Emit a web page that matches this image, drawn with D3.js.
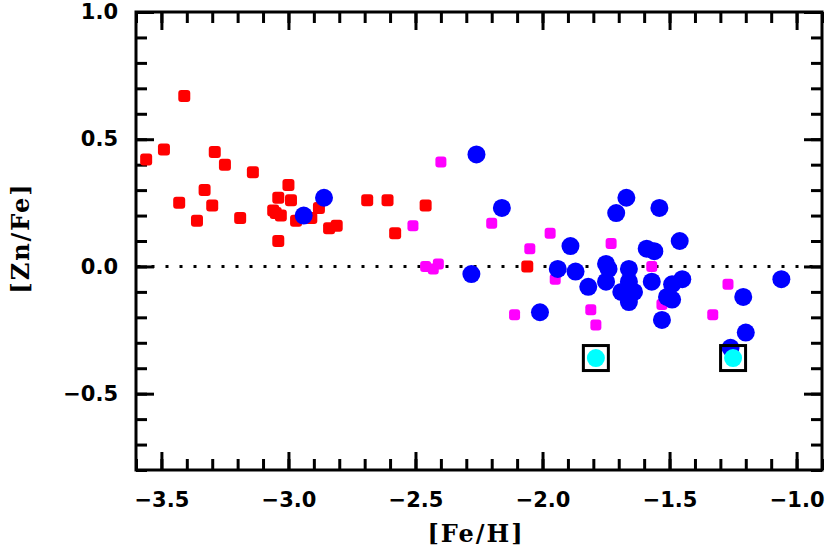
<!DOCTYPE html>
<html>
<head>
<meta charset="utf-8">
<script src="https://cdn.jsdelivr.net/npm/d3@7"></script>
<style>
  body { margin: 0; background: #fff; }
  .tick text { font-family: "DejaVu Sans", sans-serif; font-weight: bold; font-size: 21px; fill: #000; }
</style>
</head>
<body>
<svg id="chart" width="830" height="553"></svg>
<script>
// [Fe/H], [Zn/Fe]
var redFeH = [-3.41, -3.49, -3.56, -3.29, -3.25, -3.14, -3.00, -3.33, -3.43, -3.30, -3.04, -2.99,
              -3.06, -3.05, -3.03, -2.97, -2.91, -2.88, -3.36, -3.19, -3.04, -2.84, -2.81, -2.69,
              -2.61, -2.46, -2.58, -2.06];
var redZnFe = [0.67, 0.46, 0.42, 0.45, 0.40, 0.37, 0.32, 0.30, 0.25, 0.24, 0.27, 0.26,
               0.22, 0.21, 0.20, 0.18, 0.19, 0.23, 0.18, 0.19, 0.10, 0.15, 0.16, 0.26,
               0.26, 0.24, 0.13, 0.00];

var magFeH = [-2.40, -2.51, -2.46, -2.43, -2.41, -2.20, -2.05, -1.97, -1.95, -2.11,
              -1.73, -1.57, -1.81, -1.79, -1.53, -1.27, -1.33];
var magZnFe = [0.41, 0.16, 0.00, -0.01, 0.01, 0.17, 0.07, 0.13, -0.05, -0.19,
               0.09, 0.00, -0.17, -0.23, -0.15, -0.07, -0.19];

var blueFeH = [-2.86, -2.94, -2.26, -2.16, -2.28, -1.89, -1.94, -2.01, -1.67, -1.71,
               -1.54, -1.46, -1.59, -1.56, -1.75, -1.74, -1.66, -1.87, -1.82, -1.75,
               -1.69, -1.66, -1.64, -1.66, -1.57, -1.49, -1.45, -1.51, -1.49, -1.53,
               -1.06, -1.21, -1.20, -1.26];
var blueZnFe = [0.27, 0.20, 0.44, 0.23, -0.03, 0.08, -0.01, -0.18, 0.27, 0.21,
                0.23, 0.10, 0.07, 0.06, 0.01, -0.01, -0.01, -0.02, -0.08, -0.06,
                -0.10, -0.06, -0.10, -0.14, -0.06, -0.07, -0.05, -0.12, -0.13, -0.21,
                -0.05, -0.12, -0.26, -0.32];

var cyanFeH = [-1.79, -1.25];
var cyanZnFe = [-0.36, -0.36];

var xMajor = [-3.5, -3.0, -2.5, -2.0, -1.5, -1.0];
var yMajor = [-0.5, 0.0, 0.5, 1.0];

var margin = { left: 136, top: 12, right: 8, bottom: 83 };
var W = 830, H = 553;
var w = W - margin.left - margin.right;
var h = H - margin.top - margin.bottom;

var svg = d3.select("#chart");
var g = svg.append("g").attr("transform", "translate(" + margin.left + "," + margin.top + ")");

var x = d3.scaleLinear().domain([-3.6, -0.9]).range([0, w]);
var y = d3.scaleLinear().domain([-0.8, 1.0]).range([h, 0]);

var xMinor = d3.range(-36, -8).map(function (d) { return d / 10; });
var yMinor = d3.range(-8, 11).map(function (d) { return d / 10; });
var fmt = d3.format(".1f");

function styleAxis(sel) {
    sel.select(".domain").remove();
    sel.selectAll("line").attr("stroke", "#000").attr("stroke-width", 3);
}

// minor ticks, all four sides
g.append("g").attr("transform", "translate(0," + h + ")")
    .call(d3.axisBottom(x).tickValues(xMinor).tickSize(-11).tickFormat(""))
    .call(styleAxis);
g.append("g")
    .call(d3.axisTop(x).tickValues(xMinor).tickSize(-11).tickFormat(""))
    .call(styleAxis);
g.append("g")
    .call(d3.axisLeft(y).tickValues(yMinor).tickSize(-11).tickFormat(""))
    .call(styleAxis);
g.append("g").attr("transform", "translate(" + w + ",0)")
    .call(d3.axisRight(y).tickValues(yMinor).tickSize(-11).tickFormat(""))
    .call(styleAxis);

// major ticks
g.append("g").attr("transform", "translate(0," + h + ")")
    .call(d3.axisBottom(x).tickValues(xMajor).tickSize(-18).tickPadding(22).tickFormat(fmt))
    .call(styleAxis);
g.append("g")
    .call(d3.axisTop(x).tickValues(xMajor).tickSize(-18).tickFormat(""))
    .call(styleAxis);
g.append("g")
    .call(d3.axisLeft(y).tickValues(yMajor).tickSize(-18).tickPadding(18).tickFormat(fmt))
    .call(styleAxis);
g.append("g").attr("transform", "translate(" + w + ",0)")
    .call(d3.axisRight(y).tickValues(yMajor).tickSize(-18).tickFormat(""))
    .call(styleAxis);

// frame
g.append("rect")
    .attr("width", w).attr("height", h)
    .attr("fill", "none").attr("stroke", "#000").attr("stroke-width", 3);

// zero line
g.append("line")
    .attr("x1", x(-3.6) + 1.5).attr("x2", x(-0.9))
    .attr("y1", y(0)).attr("y2", y(0))
    .attr("stroke", "#000").attr("stroke-width", 3)
    .attr("stroke-dasharray", "3,11");

function pairs(a, b) { return a.map(function (v, i) { return [v, b[i]]; }); }

function squares(data, size, color) {
    g.append("g").selectAll("rect").data(data).join("rect")
        .attr("x", function (d) { return x(d[0]) - size / 2; })
        .attr("y", function (d) { return y(d[1]) - size / 2; })
        .attr("width", size).attr("height", size)
        .attr("rx", 3).attr("ry", 3)
        .attr("fill", color);
}

function circles(data, r, color) {
    g.append("g").selectAll("circle").data(data).join("circle")
        .attr("cx", function (d) { return x(d[0]); })
        .attr("cy", function (d) { return y(d[1]); })
        .attr("r", r)
        .attr("fill", color);
}

squares(pairs(redFeH, redZnFe), 12, "#ff0000");
squares(pairs(magFeH, magZnFe), 11, "#ff00ff");
circles(pairs(blueFeH, blueZnFe), 9, "#0000ff");
circles(pairs(cyanFeH, cyanZnFe), 9, "#00ffff");

// boxes round the cyan stars
g.append("g").selectAll("rect").data(pairs(cyanFeH, cyanZnFe)).join("rect")
    .attr("x", function (d) { return x(d[0]) - 12.5; })
    .attr("y", function (d) { return y(d[1]) - 12.5; })
    .attr("width", 25).attr("height", 25)
    .attr("fill", "none").attr("stroke", "#000").attr("stroke-width", 3);

// axis titles
svg.append("text")
    .attr("x", margin.left + w / 2 - 3).attr("y", 542)
    .attr("text-anchor", "middle")
    .style("font-family", "'DejaVu Serif', serif").style("font-weight", "bold")
    .style("font-size", "24px").style("letter-spacing", "2px")
    .text("[Fe/H]");

svg.append("text")
    .attr("transform", "translate(29,238) rotate(-90)")
    .attr("text-anchor", "middle")
    .style("font-family", "'DejaVu Serif', serif").style("font-weight", "bold")
    .style("font-size", "24px").style("letter-spacing", "2px")
    .text("[Zn/Fe]");
</script>
</body>
</html>
